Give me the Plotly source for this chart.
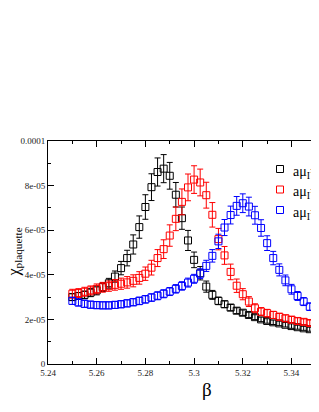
import numpy as np
import plotly.graph_objects as go

beta = [5.25, 5.2525, 5.255, 5.2575, 5.26, 5.2625, 5.265, 5.2675, 5.27, 5.2725,
        5.275, 5.2775, 5.28, 5.2825, 5.285, 5.2875, 5.29, 5.2925, 5.295, 5.2975,
        5.30, 5.3025, 5.305, 5.3075, 5.31, 5.3125, 5.315, 5.3175, 5.32, 5.3225,
        5.325, 5.3275, 5.33, 5.3325, 5.335, 5.3375, 5.34, 5.3425, 5.345, 5.3475, 5.35]

# values in units of 1e-5
chi_black = [3.00, 3.05, 3.10, 3.20, 3.30, 3.45, 3.62, 3.92, 4.30, 4.75,
             5.36, 6.14, 7.04, 7.93, 8.61, 8.76, 8.44, 7.59, 6.54, 5.54,
             4.67, 4.07, 3.47, 3.10, 2.83, 2.68, 2.53, 2.39, 2.30, 2.20,
             2.10, 2.00, 1.93, 1.87, 1.82, 1.76, 1.70, 1.65, 1.60, 1.56, 1.52]
err_black = [0.15, 0.15, 0.17, 0.18, 0.20, 0.20, 0.22, 0.25, 0.30, 0.35,
             0.43, 0.50, 0.55, 0.60, 0.63, 0.63, 0.60, 0.55, 0.50, 0.45,
             0.35, 0.30, 0.25, 0.20, 0.17, 0.15, 0.14, 0.13, 0.12, 0.12,
             0.11, 0.10, 0.10, 0.10, 0.10, 0.10, 0.10, 0.09, 0.09, 0.09, 0.09]

chi_red = [3.15, 3.18, 3.24, 3.30, 3.37, 3.44, 3.49, 3.55, 3.60, 3.66,
           3.73, 3.86, 4.05, 4.32, 4.75, 5.15, 5.76, 6.51, 7.27, 7.92,
           8.27, 8.14, 7.57, 6.69, 5.60, 4.87, 4.13, 3.51, 3.13, 2.80,
           2.50, 2.35, 2.28, 2.20, 2.12, 2.05, 1.99, 1.93, 1.89, 1.84, 1.80]
err_red = [0.20, 0.20, 0.20, 0.20, 0.22, 0.22, 0.23, 0.24, 0.25, 0.26,
           0.27, 0.28, 0.30, 0.33, 0.38, 0.42, 0.48, 0.53, 0.58, 0.60,
           0.62, 0.60, 0.58, 0.55, 0.48, 0.40, 0.35, 0.30, 0.25, 0.22,
           0.20, 0.18, 0.17, 0.16, 0.15, 0.15, 0.14, 0.14, 0.13, 0.13, 0.13]

chi_blue = [2.83, 2.76, 2.70, 2.66, 2.64, 2.63, 2.63, 2.65, 2.68, 2.72,
            2.77, 2.83, 2.90, 2.98, 3.06, 3.15, 3.25, 3.37, 3.50, 3.65,
            3.82, 4.05, 4.40, 4.85, 5.50, 6.12, 6.68, 7.09, 7.21, 7.06,
            6.67, 6.10, 5.42, 4.75, 4.22, 3.75, 3.35, 3.05, 2.80, 2.57, 2.38]
err_blue = [0.16, 0.16, 0.16, 0.16, 0.16, 0.16, 0.16, 0.16, 0.16, 0.16,
            0.16, 0.17, 0.17, 0.17, 0.18, 0.18, 0.18, 0.19, 0.19, 0.20,
            0.20, 0.22, 0.25, 0.28, 0.32, 0.36, 0.40, 0.42, 0.42, 0.42,
            0.40, 0.37, 0.33, 0.30, 0.27, 0.24, 0.22, 0.20, 0.18, 0.17, 0.16]

series_names = ["aμ<sub>I</sub>=0.0", "aμ<sub>I</sub>=0.1", "aμ<sub>I</sub>=0.2"]
series_colors = ["#000000", "#ff0000", "#0000ff"]

x_tickvals = [5.24, 5.26, 5.28, 5.30, 5.32, 5.34, 5.36]
x_ticktext = ["5.24", "5.26", "5.28", "5.3", "5.32", "5.34", "5.36"]
y_tickvals = [0, 2e-5, 4e-5, 6e-5, 8e-5, 1e-4]
y_ticktext = ["0", "2e-05", "4e-05", "6e-05", "8e-05", "0.0001"]

SCALE = 1e-5
serif = "Liberation Serif, Times New Roman, serif"

# the page body has an 8px margin: work in page pixels, convert to figure pixels
OFF = 8
FIG_W, FIG_H = 319 - OFF, 412 - OFF
L, T, W, H = 48 - OFF, 141 - OFF, 319 - 48, 364 - 141   # plot area (figure px)

def px(xpage):
    return (xpage - OFF - L) / W

def py(ypage):
    return (T + H - (ypage - OFF)) / H

fig = go.Figure()
for name, col, vals, errs in zip(series_names, series_colors,
                                 [chi_black, chi_red, chi_blue],
                                 [err_black, err_red, err_blue]):
    fig.add_trace(go.Scatter(
        x=beta, y=np.array(vals) * SCALE, name=name, mode="markers",
        showlegend=False,
        marker=dict(symbol="square-open", size=7, color=col, line=dict(width=1, color=col)),
        error_y=dict(type="data", array=np.array(errs) * SCALE, color=col, thickness=1, width=3),
    ))

# manual legend (keys + labels), positioned like the reference
annotations = []
shapes = []
legend_rows = [169, 189.5, 210]
for name, col, yrow in zip(series_names, series_colors, legend_rows):
    shapes.append(dict(type="rect", xref="paper", yref="paper",
                       xsizemode="pixel", ysizemode="pixel",
                       xanchor=px(280), yanchor=py(yrow),
                       x0=-3.5, x1=3.5, y0=-3.5, y1=3.5,
                       line=dict(color=col, width=1), fillcolor="rgba(0,0,0,0)"))
    annotations.append(dict(text=name, xref="paper", yref="paper",
                            x=px(291), y=py(yrow + 3), xanchor="left", yanchor="middle",
                            showarrow=False, font=dict(size=14, family=serif, color="black")))

annotations.append(dict(text="β", xref="paper", yref="paper", x=px(207), y=py(377),
                        xanchor="center", yanchor="top", showarrow=False,
                        font=dict(size=19, family=serif, color="black")))
annotations.append(dict(text="χ<sub>plaquette</sub>", xref="paper", yref="paper",
                        x=px(14), y=0.5, xanchor="center", yanchor="middle",
                        textangle=-90, showarrow=False,
                        font=dict(size=16, family=serif, color="black")))

fig.update_layout(
    width=FIG_W, height=FIG_H,
    margin=dict(l=L, r=FIG_W - L - W, t=T, b=FIG_H - T - H, autoexpand=False),
    paper_bgcolor="white", plot_bgcolor="white",
    font=dict(family=serif, color="black"),
    showlegend=False,
    xaxis=dict(range=[5.24, 5.3513], showline=True, linecolor="black", linewidth=1,
               mirror="ticks", ticks="inside", ticklen=6, tickcolor="black",
               tickvals=x_tickvals, ticktext=x_ticktext, automargin=False,
               tickfont=dict(size=9, family=serif, color="#222"),
               showgrid=False, zeroline=False,
               minor=dict(ticks="inside", ticklen=3, dtick=0.01, tick0=5.24, showgrid=False)),
    yaxis=dict(range=[0, 1e-4], showline=True, linecolor="black", linewidth=1,
               ticks="inside", ticklen=6, tickcolor="black", automargin=False,
               tickvals=y_tickvals, ticktext=y_ticktext,
               tickfont=dict(size=9, family=serif, color="#222"),
               showgrid=False, zeroline=False,
               minor=dict(ticks="inside", ticklen=3, dtick=1e-5, tick0=0, showgrid=False)),
    annotations=annotations,
    shapes=shapes,
)

fig.write_html("out.html")
